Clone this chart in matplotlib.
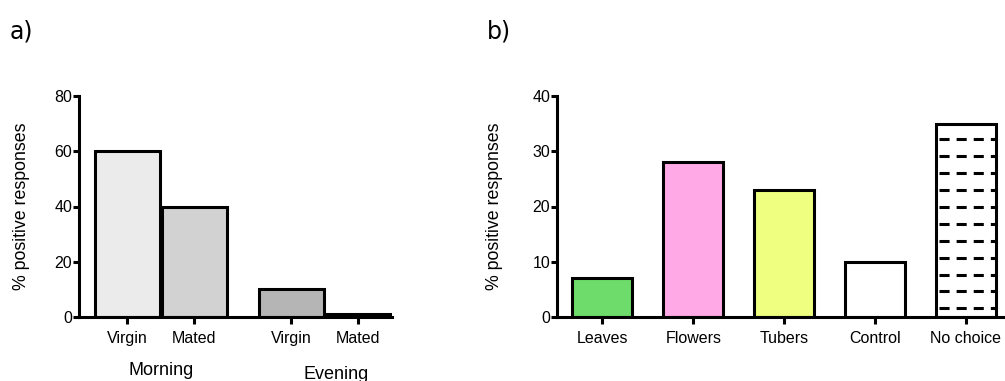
import matplotlib
matplotlib.use("Agg")
import matplotlib.pyplot as plt
import numpy as np

plt.rcParams['font.family'] = ['Liberation Sans', 'DejaVu Sans']

# --------------------- data

a_labels = ["Virgin", "Mated", "Virgin", "Mated"]
a_values = [60, 40, 10, 1]
a_groups = ["Morning", "Evening"]
a_colors = ["#ebebeb", "#d2d2d2", "#b5b5b5", "#8a8a8a"]

b_labels = ["Leaves", "Flowers", "Tubers", "Control", "No choice"]
b_values = [7, 28, 23, 10, 35]
b_colors = ["#6ddc6a", "#ffaae6", "#efff80", "#ffffff", "#ffffff"]


# --------------------- helpers

def style_axes(ax):
    for side in ["top", "right"]:
        ax.spines[side].set_visible(False)
    for side in ["left", "bottom"]:
        ax.spines[side].set_linewidth(2.2)
    ax.tick_params(axis="both", width=2.2, labelsize=11.5, direction="out")
    ax.tick_params(axis="y", length=4, pad=1)
    ax.tick_params(axis="x", length=5, pad=5)
    ax.set_ylabel("% positive responses", fontsize=12.8)


# --------------------- figure

fig = plt.figure(figsize=(10.05, 3.81), dpi=100)
W, H = 1005.0, 381.0

ax1 = fig.add_axes([79 / W, (H - 317) / H, (392 - 79) / W, (317 - 96) / H])
xa = [0, 1, 2.45, 3.45]
ax1.bar(xa, a_values, width=0.97, color=a_colors, edgecolor="black",
        linewidth=2.2)
ax1.set_xlim(-0.72, 3.95)
ax1.set_ylim(0, 80)
ax1.set_yticks([0, 20, 40, 60, 80])
ax1.set_xticks(xa)
ax1.set_xticklabels(a_labels)
style_axes(ax1)
ax1.yaxis.set_label_coords(-0.155, 0.5)

group_x = [0.5, 3.12]
group_y = [-0.24, -0.258]
for gx, gy, name in zip(group_x, group_y, a_groups):
    ax1.text(gx, gy, name, transform=ax1.get_xaxis_transform(),
             ha="center", va="center", fontsize=13)

ax2 = fig.add_axes([557 / W, (H - 317) / H, (1005 - 557) / W, (317 - 96) / H])
xb = np.arange(len(b_labels))
bars = ax2.bar(xb, b_values, width=0.66, color=b_colors, edgecolor="black",
               linewidth=2.2)
ax2.set_xlim(-0.5, 4.43)
ax2.set_ylim(0, 40)
ax2.set_yticks([0, 10, 20, 30, 40])
ax2.set_xticks(xb)
ax2.set_xticklabels(b_labels)
style_axes(ax2)
ax2.yaxis.set_label_coords(-0.12, 0.5)
for sp in ax2.spines.values():
    sp.set_clip_on(False)

# dashed fill for the "No choice" bar
nb = bars[-1]
x0 = nb.get_x()
x1 = x0 + nb.get_width()
for yy in np.arange(1.55, nb.get_height() - 1, 3.07):
    ax2.plot([x0 + 0.03, x1], [yy, yy], color="black", linewidth=2.2,
             linestyle=(0, (3.3, 2.3)), solid_capstyle="butt",
             dash_capstyle="butt")

fig.text(10 / W, 1 - 32 / H, "a)", fontsize=17, family="DejaVu Sans",
         va="center", ha="left")
fig.text(487 / W, 1 - 32 / H, "b)", fontsize=17, family="DejaVu Sans",
         va="center", ha="left")

fig.savefig("out.png", dpi=100)
